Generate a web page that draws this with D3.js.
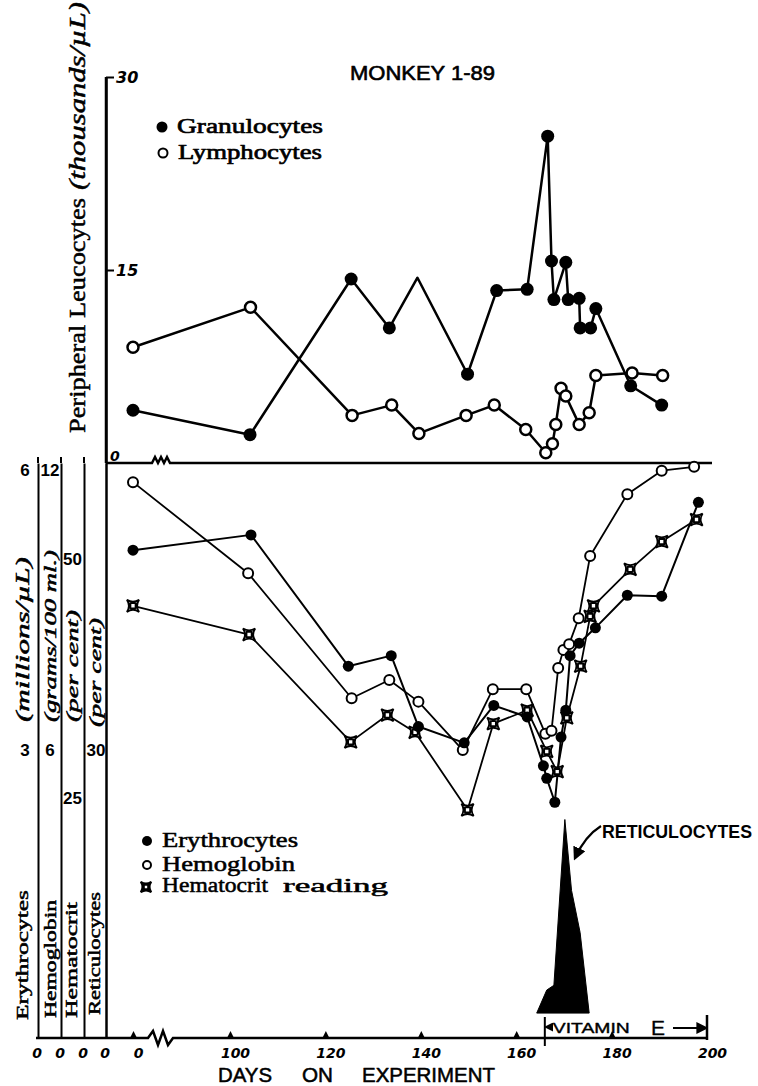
<!DOCTYPE html>
<html>
<head>
<meta charset="utf-8">
<title>Monkey 1-89</title>
<script src="https://cdn.jsdelivr.net/npm/d3@7"></script>
<style>
  body { margin: 0; background: #fff; }
  svg { display: block; }
</style>
</head>
<body>
<svg id="chart" width="758" height="1086"></svg>
<script>
// --- valeurs (jours d'expérience) ---
const granDays = [0, 104.2, 125.4, 133.4, 139.3, 149.8, 155.9, 162.3, 166.6, 167.4, 167.9, 170.4, 170.9, 173.2, 173.4, 175.6, 176.7, 184.0, 190.5];
const granValues = [4.1, 2.2, 14.3, 10.5, 14.4, 6.9, 13.4, 13.5, 25.4, 15.7, 12.7, 15.6, 12.7, 12.8, 10.5, 10.5, 12.0, 6.0, 4.5];
const granUnmarkedDays = [139.3];

const lymphDays = [0, 104.3, 125.6, 133.9, 139.6, 149.5, 155.4, 162.0, 166.2, 167.6, 168.3, 169.4, 170.4, 173.2, 175.3, 176.7, 184.3, 190.7];
const lymphValues = [9.0, 12.1, 3.7, 4.5, 2.3, 3.7, 4.5, 2.6, 0.8, 1.5, 3.0, 5.8, 5.2, 3.0, 3.9, 6.8, 7.0, 6.8];

const erythDays = [0, 104.4, 124.8, 133.8, 139.5, 149.1, 155.3, 162.3, 165.7, 166.4, 168.1, 169.4, 170.4, 171.3, 173.2, 176.6, 183.3, 190.5, 198.2];
const erythValues = [5.09, 5.25, 3.88, 3.99, 3.25, 3.08, 3.47, 3.35, 2.84, 2.71, 2.46, 3.14, 3.42, 3.99, 4.12, 4.28, 4.62, 4.61, 5.59];

const hbDays = [0, 103.8, 125.5, 133.4, 139.5, 148.8, 155.1, 162.1, 166.1, 167.4, 168.8, 169.9, 171.1, 173.1, 175.5, 183.3, 190.5, 197.3];
const hbValues = [11.6, 9.7, 7.09, 7.47, 7.02, 6.01, 7.28, 7.28, 6.35, 6.41, 7.72, 8.1, 8.22, 8.76, 10.06, 11.35, 11.84, 11.92];

const hctDays = [0, 104.0, 125.3, 133.0, 138.8, 149.8, 155.2, 162.3, 166.4, 168.6, 170.6, 173.5, 175.5, 176.2, 183.9, 190.5, 197.8];
const hctValues = [45.1, 42.1, 30.9, 33.7, 31.9, 23.8, 32.8, 34.2, 29.9, 27.8, 33.4, 38.8, 44.0, 45.1, 48.9, 51.8, 54.1];

const reticDays = [164.3, 166.4, 167.9, 170.2, 171.6, 173.4, 175.3];
const reticValues = [2.6, 5.0, 5.5, 22.8, 15.4, 11.0, 2.6];

const vitaminDays = [166, 200];

// graduations
const dayTicks = [0, 100, 120, 140, 160, 180, 200];
const leucoTicks = [0, 15, 30];
const erythTicks = [3, 6];
const hbTicks = [6, 12];
const hctTicks = [25, 50];
const reticTicks = [30];

(function(d3) {
  const svg = d3.select("#chart");
  const SANS = "'Liberation Sans', Arial, sans-serif";
  const SERIF = "'Liberation Serif', 'DejaVu Serif', serif";
  const NUM = "'DejaVu Sans', sans-serif";

  // --- échelles ---
  // l'axe des jours est coupé entre 0 et 100
  const x = d3.scaleLinear().domain([0, 100, 200]).range([133, 230, 707]);
  const yLeuco = d3.scaleLinear().domain([0, 30]).range([463, 77]);
  const yEryth = d3.scaleLinear().domain([0, 6]).range([1038, 463]);
  const yHb = d3.scaleLinear().domain([0, 12]).range([1038, 463]);
  const yPct = d3.scaleLinear().domain([0, 60]).range([1038, 463]);

  const zip = (days, vals) => days.map((d, i) => ({ day: d, v: vals[i] }));

  // symbole de l'hématocrite : carré à côtés creusés
  const symbolHct = {
    draw(ctx, size) {
      const r = Math.sqrt(size) / 2, k = r * 0.35, s = r * 0.42;
      ctx.moveTo(-r, -r);
      ctx.quadraticCurveTo(0, -k, r, -r);
      ctx.quadraticCurveTo(k, 0, r, r);
      ctx.quadraticCurveTo(0, k, -r, r);
      ctx.quadraticCurveTo(-k, 0, -r, -r);
      ctx.closePath();
      ctx.rect(-s, -s, 2 * s, 2 * s);
    }
  };

  // pointe de flèche
  svg.append("defs").append("marker")
    .attr("id", "arrow")
    .attr("viewBox", "0 0 10 10")
    .attr("refX", 8).attr("refY", 5)
    .attr("markerWidth", 6).attr("markerHeight", 6)
    .attr("orient", "auto")
    .append("path").attr("d", "M0,0L10,5L0,10Z").attr("fill", "#000");

  // petit trait autour des lettres pour imiter l'encre
  function ink(t, w) {
    t.attr("stroke", "#000").attr("stroke-width", w).attr("stroke-linejoin", "round");
  }

  function text(g, str, px, py, o) {
    const t = g.append("text")
      .attr("x", px).attr("y", py)
      .attr("font-family", o.family || SERIF)
      .attr("font-size", o.size || 18)
      .attr("font-style", o.italic ? "italic" : null)
      .attr("font-weight", o.bold ? "bold" : null)
      .attr("text-anchor", o.anchor || null)
      .text(str);
    if (o.len) t.attr("textLength", o.len).attr("lengthAdjust", "spacingAndGlyphs");
    if (o.ink) ink(t, o.ink);
    return t;
  }

  // texte vertical : yStart en bas, longueur vers le haut
  function vtext(g, str, cx, yStart, len, o) {
    const t = g.append("text")
      .attr("transform", `translate(${cx},${yStart}) rotate(-90)`)
      .attr("dy", "0.35em")
      .attr("font-family", o.family || SERIF)
      .attr("font-size", o.size || 16)
      .attr("font-style", o.italic ? "italic" : null)
      .attr("textLength", len)
      .attr("lengthAdjust", "spacingAndGlyphs")
      .text(str);
    ink(t, 0.5);
  }

  // --- axe des leucocytes ---
  const gL = svg.append("g").attr("transform", "translate(106,0)")
    .call(d3.axisRight(yLeuco).tickValues(leucoTicks).tickSize(8).tickSizeOuter(0).tickFormat(d3.format("d")));
  gL.select(".domain").attr("stroke-width", 2.5);
  gL.append("line").attr("y1", yLeuco.range()[0]).attr("y2", yLeuco.range()[1])
    .attr("stroke", "#000").attr("stroke-width", 2.5);
  gL.selectAll(".tick line").attr("stroke-width", 2);
  gL.selectAll(".tick text")
    .attr("font-family", NUM).attr("font-style", "italic").attr("font-weight", "bold")
    .attr("font-size", 16).attr("x", 10);
  gL.selectAll(".tick").filter(d => d === 0).each(function() {
    d3.select(this).select("line").remove();
    d3.select(this).select("text").attr("x", 4).attr("dy", null).attr("y", -3).attr("font-size", 14);
  });

  // --- axes de gauche (panneau du bas) ---
  const leftAxes = [
    { scale: yEryth, ticks: erythTicks, lineX: 38, labelX: 25 },
    { scale: yHb, ticks: hbTicks, lineX: 61, labelX: 50 },
    { scale: yPct, ticks: hctTicks, lineX: 84, labelX: 72.5 },
    { scale: yPct, ticks: reticTicks, lineX: 106, labelX: 96 }
  ];
  leftAxes.forEach(a => {
    const g = svg.append("g").attr("transform", `translate(${a.lineX},0)`)
      .call(d3.axisLeft(a.scale).tickValues(a.ticks).tickSize(0).tickSizeOuter(0).tickFormat(d3.format("d")));
    g.select(".domain").attr("stroke-width", a.lineX === 106 ? 2.5 : 2);
    // les traits dépassent un peu au-dessus de la ligne du milieu
    if (a.lineX !== 106) {
      g.append("line").attr("y1", a.scale.range()[1] - 6).attr("y2", a.scale.range()[1])
        .attr("stroke", "#000").attr("stroke-width", 2);
    }
    g.selectAll(".tick text")
      .attr("font-family", SANS).attr("font-weight", "bold").attr("font-size", 17)
      .attr("text-anchor", "middle").attr("x", a.labelX - a.lineX);
    // la valeur du haut est descendue sous la ligne
    g.selectAll(".tick").filter(d => d === a.scale.domain()[1])
      .attr("transform", `translate(0,${a.scale.range()[1] + 8})`);
    text(svg, "0", a.lineX - 1, 1058, { family: NUM, italic: true, bold: true, size: 14, anchor: "middle" });
  });

  // titres des axes
  const gT = svg.append("g");
  vtext(gT, "Peripheral Leucocytes", 77, 433, 235, { size: 24 });
  vtext(gT, "(thousands/µL)", 77, 190, 188, { size: 24, italic: true });
  vtext(gT, "Erythrocytes", 22, 1020, 130, { size: 17 });
  vtext(gT, "(millions/µL)", 22, 722, 165, { size: 19, italic: true });
  vtext(gT, "Hemoglobin", 50, 1018, 118, { size: 16 });
  vtext(gT, "(grams/100 ml.)", 50, 722, 172, { size: 17, italic: true });
  vtext(gT, "Hematocrit", 71, 1018, 116, { size: 16 });
  vtext(gT, "(per cent)", 72, 722, 112, { size: 17, italic: true });
  vtext(gT, "Reticulocytes", 94, 1015, 123, { size: 16 });
  vtext(gT, "(per cent)", 95, 727, 109, { size: 17, italic: true });

  // --- axe des jours ---
  const gD = svg.append("g").attr("transform", "translate(0,1038)")
    .call(d3.axisBottom(x).tickValues(dayTicks).tickSize(0).tickPadding(10).tickFormat(d3.format("d")));
  gD.select(".domain").remove();
  gD.selectAll(".tick text")
    .attr("font-family", NUM).attr("font-style", "italic").attr("font-weight", "bold")
    .attr("font-size", 14).attr("dx", 5);
  gD.selectAll(".tick").filter(d => d < 200).append("path")
    .attr("d", "M-3.5,0L0,-7L3.5,0Z").attr("fill", "#000");

  // lignes de base avec coupures
  const base = d3.line();
  svg.append("path")
    .attr("d", base([[36, 1038], [148, 1038], [153, 1031], [158, 1045], [163, 1031], [168, 1045], [173, 1038], [x(200), 1038]]))
    .attr("fill", "none").attr("stroke", "#000").attr("stroke-width", 2.5);
  svg.append("path")
    .attr("d", base([[106, 463], [152, 463], [155, 457], [158, 463], [161, 457], [164, 463], [167, 457], [170, 463], [712, 463]]))
    .attr("fill", "none").attr("stroke", "#000").attr("stroke-width", 2.5);

  text(svg, "DAYS", 218, 1082, { family: SANS, size: 20, len: 54, ink: 0.5 });
  text(svg, "ON", 302, 1082, { family: SANS, size: 20, len: 31, ink: 0.5 });
  text(svg, "EXPERIMENT", 362, 1082, { family: SANS, size: 20, len: 133, ink: 0.5 });

  // vitamine E
  const vx0 = x(vitaminDays[0]), vx1 = x(vitaminDays[1]);
  svg.append("line").attr("x1", vx0).attr("x2", vx0).attr("y1", 1017).attr("y2", 1046)
    .attr("stroke", "#000").attr("stroke-width", 2);
  svg.append("line").attr("x1", vx1).attr("x2", vx1).attr("y1", 1015).attr("y2", 1040)
    .attr("stroke", "#000").attr("stroke-width", 2.5);
  svg.append("line").attr("x1", vx0 + 8).attr("x2", vx0 + 1).attr("y1", 1027).attr("y2", 1027)
    .attr("stroke", "#000").attr("stroke-width", 1.5).attr("marker-end", "url(#arrow)");
  svg.append("line").attr("x1", 673).attr("x2", vx1 - 1).attr("y1", 1028).attr("y2", 1028)
    .attr("stroke", "#000").attr("stroke-width", 2).attr("marker-end", "url(#arrow)");
  text(svg, "VITAMIN", vx0 + 8, 1033, { family: SANS, size: 15, len: 77, ink: 0.4 });
  text(svg, "E", 651, 1035, { family: SANS, size: 21, ink: 0.3 });

  // --- réticulocytes (aire noire) ---
  svg.append("path")
    .attr("d", d3.line().x(d => x(d.day)).y(d => yPct(d.v)).curve(d3.curveLinearClosed)(zip(reticDays, reticValues)))
    .attr("fill", "#000").attr("stroke", "#000").attr("stroke-width", 1);
  svg.append("path")
    .attr("d", "M601,826Q585,836 575,858")
    .attr("fill", "none").attr("stroke", "#000").attr("stroke-width", 2.2)
    .attr("marker-end", "url(#arrow)");
  text(svg, "RETICULOCYTES", 602, 838, { family: SANS, size: 18, bold: true, len: 150 });

  // --- séries ---
  function drawLine(data, ys, w) {
    svg.append("path")
      .attr("d", d3.line().x(d => x(d.day)).y(d => ys(d.v))(data))
      .attr("fill", "none").attr("stroke", "#000").attr("stroke-width", w)
      .attr("stroke-linejoin", "round");
  }
  function drawDots(data, ys, r, filled, w) {
    svg.append("g").selectAll("circle").data(data).join("circle")
      .attr("cx", d => x(d.day)).attr("cy", d => ys(d.v)).attr("r", r)
      .attr("fill", filled ? "#000" : "#fff")
      .attr("stroke", "#000").attr("stroke-width", filled ? 0 : w);
  }

  const hct = zip(hctDays, hctValues);
  const hb = zip(hbDays, hbValues);
  const eryth = zip(erythDays, erythValues);
  drawLine(hct, yPct, 1.8);
  drawLine(hb, yHb, 1.8);
  drawLine(eryth, yEryth, 2);
  svg.append("g").selectAll("path").data(hct).join("path")
    .attr("transform", d => `translate(${x(d.day)},${yPct(d.v)})`)
    .attr("d", d3.symbol().type(symbolHct).size(150))
    .attr("fill", "#fff").attr("stroke", "#000").attr("stroke-width", 1.8);
  drawDots(hb, yHb, 5, false, 2);
  drawDots(eryth, yEryth, 5.5, true);

  const gran = zip(granDays, granValues);
  const lymph = zip(lymphDays, lymphValues);
  drawLine(lymph, yLeuco, 2.5);
  drawLine(gran, yLeuco, 2.5);
  drawDots(lymph, yLeuco, 5.5, false, 2.5);
  drawDots(gran.filter(d => !granUnmarkedDays.includes(d.day)), yLeuco, 6.5, true);

  // --- légendes ---
  text(svg, "MONKEY 1-89", 350, 80, { family: SANS, size: 20, len: 145, ink: 0.6 });

  svg.append("circle").attr("cx", 162).attr("cy", 127).attr("r", 5.5).attr("fill", "#000");
  text(svg, "Granulocytes", 177, 133, { size: 22, len: 146, ink: 0.7 });
  svg.append("circle").attr("cx", 163).attr("cy", 153).attr("r", 4.5)
    .attr("fill", "#fff").attr("stroke", "#000").attr("stroke-width", 2);
  text(svg, "Lymphocytes", 178, 159, { size: 22, len: 144, ink: 0.7 });

  svg.append("circle").attr("cx", 147).attr("cy", 841).attr("r", 5).attr("fill", "#000");
  text(svg, "Erythrocytes", 162, 847, { size: 20, len: 136, ink: 0.5 });
  svg.append("circle").attr("cx", 147).attr("cy", 865).attr("r", 4)
    .attr("fill", "#fff").attr("stroke", "#000").attr("stroke-width", 2);
  text(svg, "Hemoglobin", 162, 871, { size: 20, len: 133, ink: 0.5 });
  svg.append("path").attr("transform", "translate(146,887)")
    .attr("d", d3.symbol().type(symbolHct).size(110))
    .attr("fill", "#fff").attr("stroke", "#000").attr("stroke-width", 2);
  text(svg, "Hematocrit", 162, 892, { size: 20, len: 106, ink: 0.5 });
  text(svg, "reading", 283, 892, { size: 19, len: 105, ink: 0.5 });
})(d3);
</script>
</body>
</html>
